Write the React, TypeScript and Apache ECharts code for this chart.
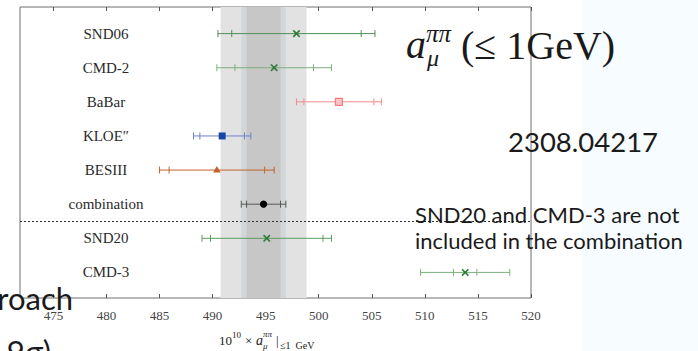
import React, { useEffect, useRef } from "react";
import * as echarts from "echarts";

// Measurements of a_mu^{pi pi}(<= 1 GeV), in units of 1e-10
const experiments = ["SND06", "CMD-2", "BaBar", "KLOE\u2033", "BESIII", "combination", "SND20", "CMD-3"];
const central = [497.9, 495.8, 501.9, 490.9, 490.4, 494.8, 495.1, 513.8];
const statErr = [6.1, 3.7, 3.3, 2.1, 4.5, 1.6, 5.3, 1.1];
const totalErr = [7.4, 5.4, 4.0, 2.7, 5.4, 2.1, 6.1, 4.2];

// shaded bands around the combined value (outer, total, statistical)
const bandCenter = 494.8;
const bandHalfWidths = [4.05, 2.1, 1.6];
const bandColors = ["#e2e2e2", "#d2d6d8", "#c7c7c7"];

const xTicks = [475, 480, 485, 490, 495, 500, 505, 510, 515, 520];

type RowStyle = { line: string; marker: string; fill: string; shape: string };
const rowStyles: RowStyle[] = [
  { line: "#4f8f55", marker: "#2f7a3a", fill: "#2f7a3a", shape: "cross" },
  { line: "#7cb07f", marker: "#2f7a3a", fill: "#2f7a3a", shape: "cross" },
  { line: "#f28c8c", marker: "#ee8080", fill: "#f8c4c4", shape: "openSquare" },
  { line: "#6f83d0", marker: "#1747a6", fill: "#1747a6", shape: "square" },
  { line: "#c4622d", marker: "#c4622d", fill: "#c4622d", shape: "triangle" },
  { line: "#555555", marker: "#000000", fill: "#000000", shape: "circle" },
  { line: "#5a9e5e", marker: "#2f7a3a", fill: "#2f7a3a", shape: "cross" },
  { line: "#7ab27d", marker: "#2f7a3a", fill: "#2f7a3a", shape: "cross" },
];

const SERIF = "'Liberation Serif', 'DejaVu Serif', serif";
const SANS = "Lato, 'Open Sans', sans-serif";

function renderErrorBar(params: any, api: any) {
  const row = api.value(0);
  const c = api.value(1);
  const s = api.value(2);
  const t = api.value(3);
  const [cx, cy] = api.coord([c, row]);
  const px = (v: number) => api.coord([v, row])[0];
  const st = rowStyles[row];
  const capH = 3.5;
  const lineStyle = { stroke: st.line, lineWidth: 1 };
  const children: any[] = [
    { type: "line", shape: { x1: px(c - t), y1: cy, x2: px(c + t), y2: cy }, style: lineStyle },
  ];
  for (const v of [c - t, c - s, c + s, c + t]) {
    children.push({
      type: "line",
      shape: { x1: px(v), y1: cy - capH, x2: px(v), y2: cy + capH },
      style: lineStyle,
    });
  }
  const m = 3.2;
  if (st.shape === "cross") {
    const ms = { stroke: st.marker, lineWidth: 1.6 };
    children.push({ type: "line", shape: { x1: cx - m, y1: cy - m, x2: cx + m, y2: cy + m }, style: ms });
    children.push({ type: "line", shape: { x1: cx - m, y1: cy + m, x2: cx + m, y2: cy - m }, style: ms });
  } else if (st.shape === "openSquare") {
    children.push({
      type: "rect",
      shape: { x: cx - 3.5, y: cy - 3.5, width: 7, height: 7 },
      style: { fill: st.fill, stroke: st.marker, lineWidth: 1.2 },
    });
  } else if (st.shape === "square") {
    children.push({
      type: "rect",
      shape: { x: cx - 3.5, y: cy - 3.5, width: 7, height: 7 },
      style: { fill: st.fill },
    });
  } else if (st.shape === "triangle") {
    children.push({
      type: "polygon",
      shape: { points: [[cx, cy - 4], [cx - 3.8, cy + 2.5], [cx + 3.8, cy + 2.5]] },
      style: { fill: st.fill },
    });
  } else {
    children.push({ type: "circle", shape: { cx, cy, r: 3.6 }, style: { fill: st.fill } });
  }
  children.push({
    type: "text",
    style: {
      text: experiments[row],
      x: 106,
      y: cy,
      align: "center",
      verticalAlign: "middle",
      font: `15px ${SERIF}`,
      fill: "#2a2a2a",
    },
  });
  return { type: "group", children };
}

function txt(text: string, x: number, y: number, size: number, family: string, extra: any = {}) {
  return {
    type: "text",
    z: 100,
    style: {
      text,
      x,
      y,
      font: `${extra.italic ? "italic " : ""}${size}px ${family}`,
      fill: extra.fill || "#1a1a1a",
      align: extra.align || "left",
      verticalAlign: "middle",
    },
  };
}

export default function App() {
  const ref = useRef<HTMLDivElement>(null);

  useEffect(() => {
    if (!ref.current) return;
    const chart = echarts.init(ref.current, undefined, { renderer: "svg" });

    const rows = experiments.map((_, i) => [i, central[i], statErr[i], totalErr[i]]);

    const axisCommon = {
      type: "value" as const,
      min: 471.85,
      max: 520,
      splitLine: { show: false },
      axisLine: { show: false, onZero: false },
    };

    chart.setOption({
      animation: false,
      backgroundColor: "#ffffff",
      grid: {
        left: 20,
        right: 167,
        top: 7,
        bottom: 53,
        show: true,
        borderColor: "#6e6e6e",
        borderWidth: 1,
        backgroundColor: "transparent",
      },
      xAxis: [
        {
          ...axisCommon,
          position: "bottom",
          axisTick: {
            inside: true,
            length: 4,
            customValues: xTicks,
            lineStyle: { color: "#555" },
          },
          axisLabel: {
            customValues: xTicks,
            margin: 11,
            fontFamily: SERIF,
            fontSize: 13,
            color: "#444",
          },
        },
        {
          ...axisCommon,
          position: "top",
          axisTick: {
            inside: true,
            length: 4,
            customValues: xTicks,
            lineStyle: { color: "#555" },
          },
          axisLabel: { show: false },
        },
      ],
      yAxis: {
        type: "value",
        inverse: true,
        min: -0.78,
        max: 7.75,
        show: false,
        splitLine: { show: false },
      },
      series: [
        {
          type: "custom",
          xAxisIndex: 0,
          yAxisIndex: 0,
          renderItem: renderErrorBar,
          data: rows,
          z: 5,
          markArea: {
            silent: true,
            data: bandHalfWidths.map((w, k) => [
              { xAxis: bandCenter - w, itemStyle: { color: bandColors[k] } },
              { xAxis: bandCenter + w },
            ]),
          },
          markLine: {
            silent: true,
            symbol: "none",
            label: { show: false },
            lineStyle: { color: "#333", type: [2, 2], width: 1 },
            data: [{ yAxis: 5.5 }],
          },
        },
      ],
      graphic: [
        {
          type: "rect",
          z: -10,
          shape: { x: 582, y: 0, width: 116, height: 351 },
          style: { fill: "#f6fcff" },
        },
        // axis title: 10^10 x a_mu^{pi pi}|_{<= 1 GeV}
        txt("10", 219, 340, 13, SERIF),
        txt("10", 232, 335, 9, SERIF),
        txt("\u00d7", 245, 340, 13, SERIF),
        txt("a", 256, 340, 14, SERIF, { italic: true }),
        txt("\u03c0\u03c0", 263, 334, 9, SERIF, { italic: true }),
        txt("\u03bc", 263, 346, 9, SERIF, { italic: true }),
        txt("|", 276, 340, 13, SERIF),
        txt("\u22641  GeV", 280, 345, 10, SERIF),
        // headline formula
        txt("a", 406, 44, 40, SERIF, { italic: true }),
        txt("\u03c0\u03c0", 426, 33, 25, SERIF, { italic: true }),
        txt("\u03bc", 427, 58, 24, SERIF, { italic: true }),
        txt("(\u2264 1GeV)", 461, 45, 40, SERIF),
        // annotations
        txt("2308.04217", 508, 141, 27.5, SANS),
        txt("SND20 and CMD-3 are not", 415, 214, 22, SANS),
        txt("included in the combination", 415, 240, 22, SANS),
        txt("approach", 73, 298, 31, SANS, { align: "right" }),
        txt("(4.9\u03c3)", 51, 351, 31, SANS, { align: "right" }),
      ],
    });

    return () => chart.dispose();
  }, []);

  return (
    <div
      ref={ref}
      style={{ position: "fixed", left: 0, top: 0, width: 698, height: 351 }}
    />
  );
}
